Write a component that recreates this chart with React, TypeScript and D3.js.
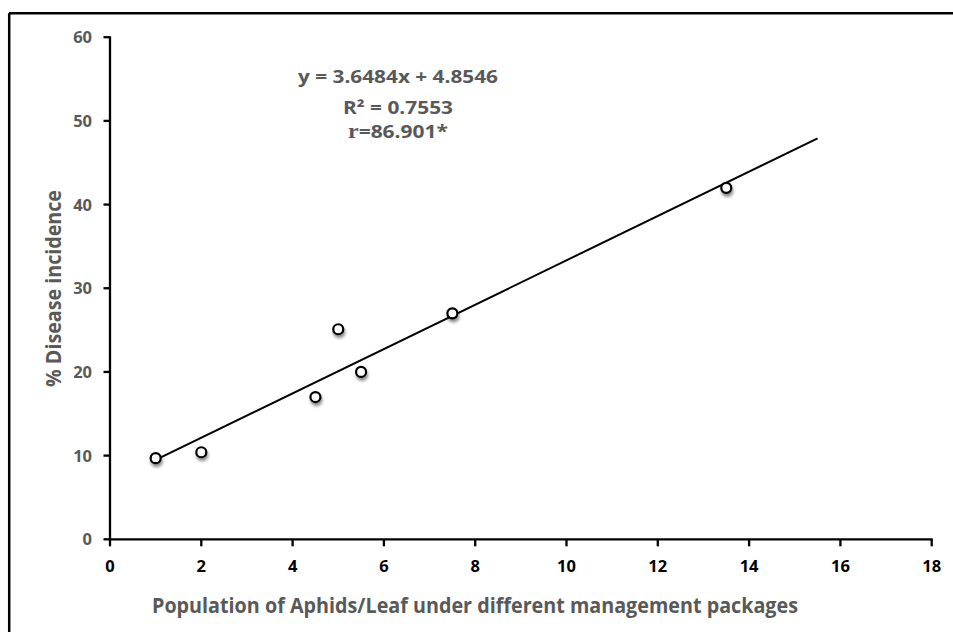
import React from "react";
import * as d3 from "d3";

const aphids = [1, 2, 4.5, 5, 5.5, 7.5, 13.5];
const incidence = [9.7, 10.4, 17, 25.1, 20, 27, 42];
const xTicks = [0, 2, 4, 6, 8, 10, 12, 14, 16, 18];
const yTicks = [0, 10, 20, 30, 40, 50, 60];
const trendRange = [1, 15.5];
const equationLines = ["y = 3.6484x + 4.8546", "R\u00b2 = 0.7553"];
const rLabel = ["r", "=86.901*"];
const xTitle = "Population of Aphids/Leaf under different management packages";
const yTitle = "% Disease incidence";

const W = 953;
const H = 632;
const GREY = "#595959";
const FONT = "'Open Sans', 'DejaVu Sans', sans-serif";

export default function App() {
  const x = d3.scaleLinear().domain([0, 18]).range([110, 931.7]);
  const y = d3.scaleLinear().domain([0, 60]).range([539.3, 37.2]);

  const n = aphids.length;
  const mx = d3.mean(aphids) as number;
  const my = d3.mean(incidence) as number;
  let sxy = 0;
  let sxx = 0;
  for (let i = 0; i < n; i++) {
    sxy += (aphids[i] - mx) * (incidence[i] - my);
    sxx += (aphids[i] - mx) * (aphids[i] - mx);
  }
  const slope = sxy / sxx;
  const intercept = my - slope * mx;
  const trend = trendRange.map((v) => [v, slope * v + intercept] as [number, number]);
  const lineGen = d3
    .line<[number, number]>()
    .x((d) => x(d[0]))
    .y((d) => y(d[1]));

  return (
    <svg
      width={W}
      height={H}
      style={{ position: "absolute", left: 0, top: 0, background: "#fff" }}
    >
      <defs>
        <filter id="shadow" x="-100%" y="-100%" width="300%" height="300%">
          <feDropShadow dx="1" dy="3" stdDeviation="1.6" floodColor="#000" floodOpacity="0.45" />
        </filter>
      </defs>
      <rect x={0} y={0} width={W} height={H} fill="#fff" />
      {/* frame */}
      <line x1={9} y1={13.3} x2={W} y2={13.3} stroke="#000" strokeWidth={2.5} />
      <line x1={9.2} y1={13.3} x2={9.2} y2={H} stroke="#000" strokeWidth={2.5} />

      {/* y axis */}
      <line x1={x(0)} y1={y(60) - 1} x2={x(0)} y2={y(0) + 1} stroke="#000" strokeWidth={2.3} />
      {yTicks.map((t) => (
        <g key={"y" + t}>
          <line x1={x(0) - 6.5} x2={x(0)} y1={y(t)} y2={y(t)} stroke="#000" strokeWidth={2.3} />
          <text
            x={92}
            y={y(t)}
            dy="0.36em"
            textAnchor="end"
            fontFamily={FONT}
            fontWeight="bold"
            fontSize={16.5}
            fill={GREY}
          >
            {t}
          </text>
        </g>
      ))}

      {/* x axis */}
      <line x1={x(0) - 1} y1={y(0)} x2={x(18) + 1} y2={y(0)} stroke="#000" strokeWidth={2.3} />
      {xTicks.map((t) => (
        <g key={"x" + t}>
          <line x1={x(t)} x2={x(t)} y1={y(0)} y2={y(0) + 7} stroke="#000" strokeWidth={2.3} />
          <text
            x={x(t)}
            y={572}
            textAnchor="middle"
            fontFamily={FONT}
            fontWeight="bold"
            fontSize={16.5}
            fill="#000"
          >
            {t}
          </text>
        </g>
      ))}

      {/* axis titles */}
      <text
        x={475}
        y={613.3}
        textAnchor="middle"
        fontFamily={FONT}
        fontWeight="bold"
        fontSize={21}
        fill={GREY}
        textLength={646}
        lengthAdjust="spacingAndGlyphs"
      >
        {xTitle}
      </text>
      <text
        transform={`translate(60.5,288.5) rotate(-90)`}
        textAnchor="middle"
        fontFamily={FONT}
        fontWeight="bold"
        fontSize={21}
        fill={GREY}
        textLength={197}
        lengthAdjust="spacingAndGlyphs"
      >
        {yTitle}
      </text>

      {/* trendline */}
      <path d={lineGen(trend) || ""} fill="none" stroke="#000" strokeWidth={2} />

      {/* points */}
      {aphids.map((a, i) => (
        <circle
          key={"p" + i}
          cx={x(a)}
          cy={y(incidence[i])}
          r={5}
          fill="#fff"
          stroke="#000"
          strokeWidth={2.2}
          filter="url(#shadow)"
        />
      ))}

      {/* equation */}
      <text
        x={398}
        y={83.3}
        textAnchor="middle"
        fontFamily={FONT}
        fontWeight="bold"
        fontSize={17.5}
        fill={GREY}
        textLength={200}
        lengthAdjust="spacingAndGlyphs"
      >
        {equationLines[0]}
      </text>
      <text
        x={398}
        y={114}
        textAnchor="middle"
        fontFamily={FONT}
        fontWeight="bold"
        fontSize={17.5}
        fill={GREY}
        textLength={110}
        lengthAdjust="spacingAndGlyphs"
      >
        {equationLines[1]}
      </text>
      <text
        x={398}
        y={138}
        textAnchor="middle"
        fontFamily={FONT}
        fontWeight="bold"
        fontSize={17.5}
        fill={GREY}
        textLength={100}
        lengthAdjust="spacingAndGlyphs"
      >
        <tspan fontFamily="'Liberation Serif', 'DejaVu Serif', serif" fontSize={20}>
          {rLabel[0]}
        </tspan>
        <tspan>{rLabel[1]}</tspan>
      </text>
    </svg>
  );
}
